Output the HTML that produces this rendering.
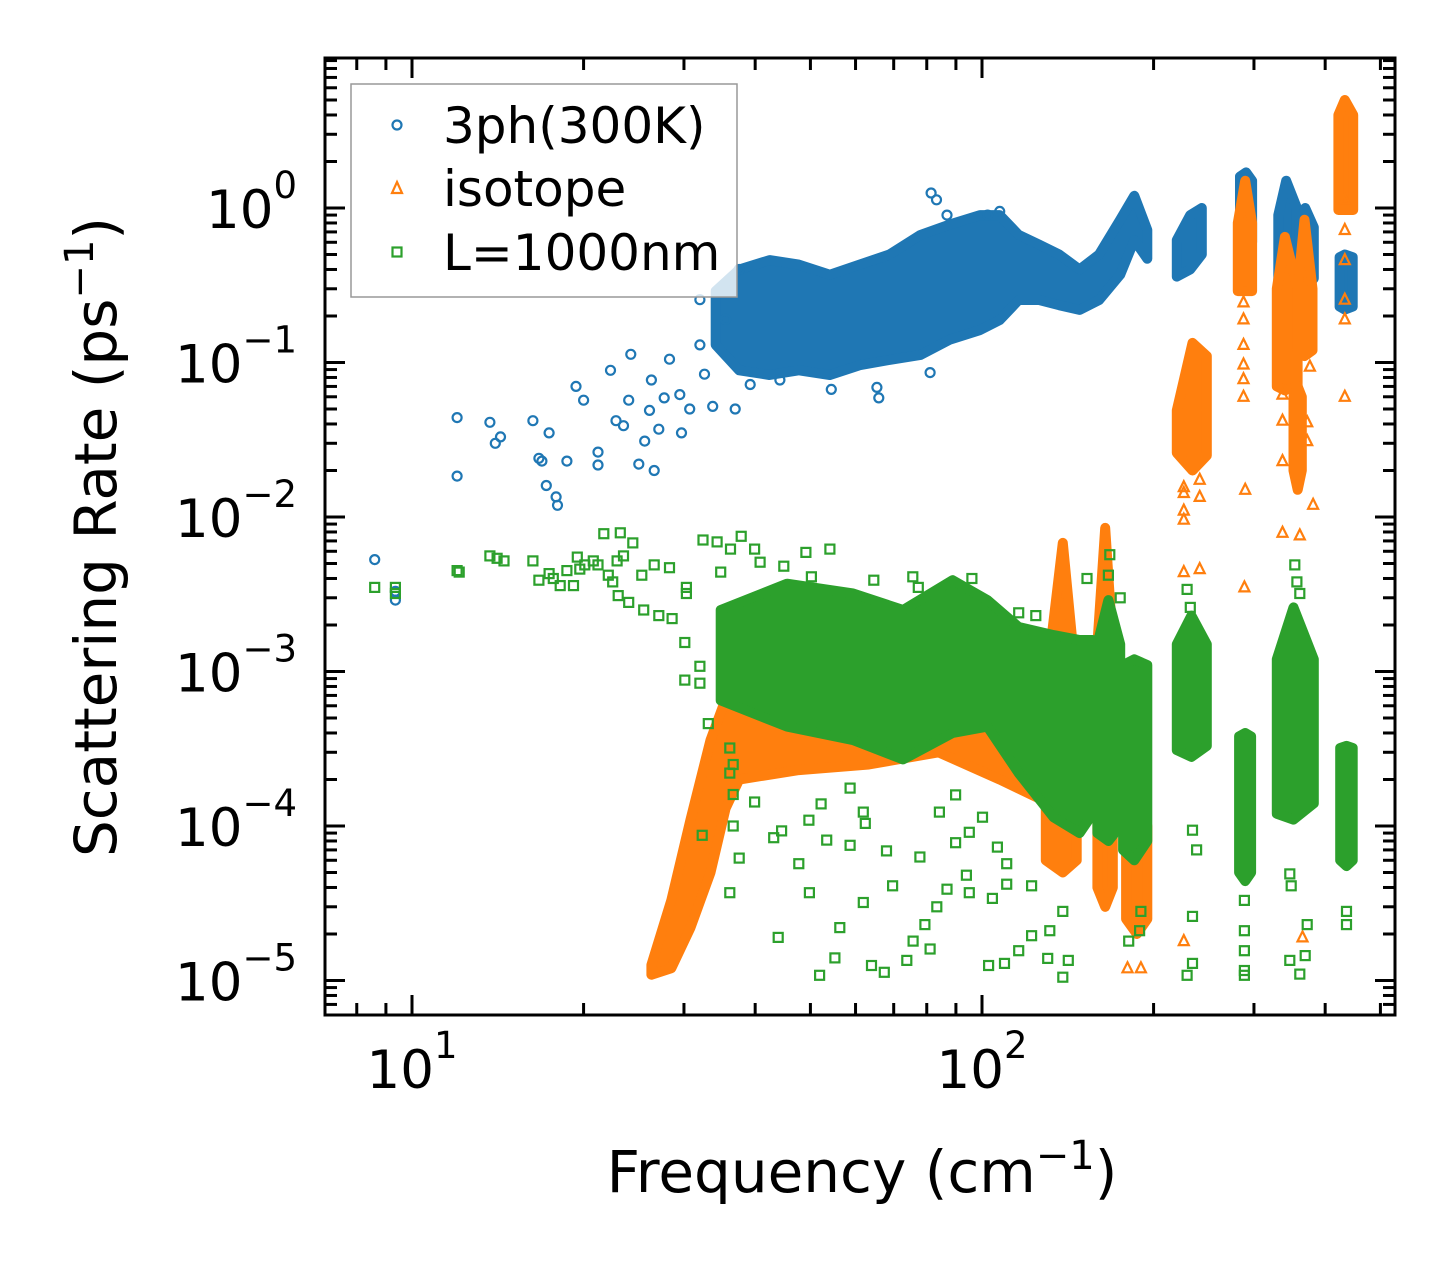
<!DOCTYPE html>
<html><head><meta charset="utf-8"><style>
html,body{margin:0;padding:0;background:#fff;}
svg{display:block;font-family:"DejaVu Sans","Liberation Sans",sans-serif;}
</style></head><body>
<svg id="chart" width="1455" height="1265" viewBox="0 0 1455 1265" xmlns="http://www.w3.org/2000/svg">
<defs><clipPath id="plotclip"><rect x="325" y="58" width="1070" height="957"/></clipPath></defs>
<rect x="0" y="0" width="1455" height="1265" fill="#fff"/>
<g id="marks" clip-path="url(#plotclip)"></g>
<g id="axes"></g>
<text x="862" y="1192" text-anchor="middle" font-size="58">Frequency (cm<tspan dy="-23" font-size="40">−1</tspan><tspan dy="23">)</tspan></text>
<text transform="translate(116,537) rotate(-90)" text-anchor="middle" font-size="58">Scattering Rate (ps<tspan dy="-23" font-size="40">−1</tspan><tspan dy="23">)</tspan></text>
<g id="legend">
<rect x="351" y="84" width="386" height="213" fill="#fff" fill-opacity="0.8" stroke="#999" stroke-width="1.5"/>
<circle cx="397" cy="125" r="4.5" fill="none" stroke="#1f77b4" stroke-width="2.2"/>
<text x="443" y="143" font-size="50">3ph(300K)</text>
<polygon points="397,182 402,193 392,193" fill="none" stroke="#ff7f0e" stroke-width="2.2"/>
<text x="443" y="206" font-size="50">isotope</text>
<rect x="392.5" y="247.5" width="9" height="9" fill="none" stroke="#2ca02c" stroke-width="2.2"/>
<text x="443" y="270" font-size="50">L=1000nm</text>
</g>
</svg>
<script>
// ---- 3ph(300K) data ----
const ph3Freq = [8.6,9.35,9.35,12.0,12.0,13.7,14.3,14.0,16.3,16.7,16.9,17.4,17.2,17.9,18.0,18.7,19.4,20.0,21.2,21.2,22.3,22.8,23.5,24.2,24.0,25.0,25.6,26.1,26.3,26.6,27.1,27.7,28.3,29.5,29.7,30.7,32.0,32.6,33.7,32.0,35.5,36.9,39.2,37.5,44.2,54.4,65.4,65.9,81.1,81.4,83.2,86.8,102.3,107.4];
const ph3Rate = [0.0053,0.0029,0.0033,0.044,0.0184,0.041,0.033,0.030,0.042,0.024,0.023,0.035,0.016,0.0135,0.0119,0.023,0.070,0.057,0.0217,0.0263,0.089,0.042,0.039,0.113,0.057,0.022,0.031,0.049,0.077,0.020,0.037,0.059,0.105,0.062,0.035,0.050,0.13,0.084,0.052,0.255,0.19,0.05,0.072,0.40,0.077,0.067,0.069,0.059,0.086,1.25,1.13,0.9,0.9,0.95];
const ph3BandFreq = [[34.1,37.5,42.4,47.7,54.1,61.0,68.8,78,87.6,99.2,107.4,116,126,136.6,148.3,160.5,174.8,185,195],[219.7,231.9,243],[283.5,290.6,297.7],[331,341.7,356.8],[360,369,382],[424,433,447]];
const ph3BandHi = [[0.29,0.40,0.46,0.43,0.37,0.43,0.50,0.67,0.78,0.90,0.90,0.67,0.58,0.50,0.40,0.50,0.84,1.2,0.72],[0.62,0.9,1.0],[1.6,1.7,1.5],[0.9,1.5,1.0],[0.8,1.0,0.75],[0.48,0.5,0.48]];
const ph3BandLo = [[0.13,0.089,0.083,0.089,0.083,0.096,0.104,0.112,0.14,0.162,0.188,0.254,0.254,0.235,0.219,0.254,0.37,0.62,0.47],[0.36,0.4,0.5],[0.6,0.55,0.6],[0.13,0.12,0.14],[0.3,0.3,0.35],[0.23,0.22,0.23]];
// ---- isotope data ----
const isoFreq = [226,226,226,226,241,226,226,241,241,287.6,287.6,287.6,287.6,287.6,287.6,289.6,288.6,336.7,336.7,336.7,372,372,376,381,336.7,361,433,433,433,433,433,433,190,180,365];
const isoRate = [0.0143,0.011,0.0096,0.0044,0.0046,1.8e-5,0.0156,0.0174,0.0135,0.245,0.19,0.13,0.097,0.078,0.06,0.015,0.0035,0.062,0.042,0.023,0.031,0.041,0.094,0.012,0.0079,0.0076,1.13,0.72,0.46,0.255,0.19,0.06,1.2e-5,1.2e-5,1.9e-5];
const isoBandFreq = [[26.3,28.5,30.8,33.4,35.5,37.5,47.7,63.3,83.9,107.4,126.3],[129.4,138.6,146.6],[159.4,164.5,169.6],[179,187,195],[219.7,234,248],[281,289.6,297.7],[329,340,357.8],[352,358,364],[358,368,380],[422,433,448]];
const isoBandHi = [[1.26e-5,3.3e-5,1.1e-4,3.6e-4,6.6e-4,7e-4,7e-4,7e-4,7e-4,7e-4,7e-4],[8e-4,6.8e-3,8e-4],[1.5e-3,8.5e-3,1.5e-3],[1e-4,1.2e-4,1e-4],[0.049,0.134,0.11],[0.8,1.5,0.8],[0.3,0.65,0.3],[0.06,0.07,0.06],[0.3,0.84,0.3],[4.0,5.0,4.0]];
const isoBandLo = [[1.09e-5,1.2e-5,2.2e-5,5e-5,1.3e-4,2.0e-4,2.3e-4,2.5e-4,3e-4,2e-4,1.5e-4],[6e-5,5e-5,6e-5],[4e-5,3e-5,4e-5],[2.5e-5,2e-5,2.5e-5],[0.026,0.02,0.025],[0.29,0.29,0.29],[0.07,0.066,0.07],[0.02,0.015,0.02],[0.12,0.11,0.12],[0.97,0.97,0.97]];
// ---- boundary L=1000nm data ----
const bndFreq = [30.1,32.0,33.1,36.1,36.6,36.1,36.6,39.9,36.6,37.5,32.3,47.7,43.1,44.5,49.7,52.2,58.7,61.9,62.4,53.4,58.7,68.0,77.8,36.1,49.8,61.9,69.7,83.3,79.4,75.7,56.3,43.9,55.2,51.9,64,67.4,73.8,81.1,86.8,95,93.9,104.3,110.5,102.7,109.5,116,122.2,131.5,138.6,141.7,138.6,130.4,89.9,100.2,106.4,110.5,122.2,95,84.2,89.9,
23.2,24.4,32.4,34.3,37.8,39.9,36.2,44.9,49.1,54.1,50.2,64.6,75.6,77.3,25.3,26.6,28.3,24.0,25.5,27.1,28.6,30.3,30.1,32.0,30.3,34.8,40.8,152.8,167.6,166.6,174.8,96,116,124.3,
8.6,9.35,9.35,12.0,12.1,13.7,14.1,14.5,16.3,16.7,17.4,17.7,18.2,18.7,19.2,19.7,19.5,20.1,20.8,21.2,21.7,22.1,22.5,22.9,23.0,23.5,
288.6,288.6,288.6,288.6,288.6,346.7,348.7,372,369,346.7,361,234,238,234,229,234,436,436,180.9,189,190,353.8,356.8,361,229,232];
const bndRate = [8.8e-4,8.4e-4,4.6e-4,3.2e-4,2.5e-4,2.2e-4,1.6e-4,1.43e-4,1.0e-4,6.2e-5,8.7e-5,5.7e-5,8.4e-5,9.3e-5,1.09e-4,1.39e-4,1.76e-4,1.23e-4,1.04e-4,8.1e-5,7.5e-5,6.9e-5,6.3e-5,3.7e-5,3.7e-5,3.2e-5,4.1e-5,3.0e-5,2.3e-5,1.8e-5,2.2e-5,1.9e-5,1.4e-5,1.08e-5,1.25e-5,1.13e-5,1.35e-5,1.6e-5,3.9e-5,3.7e-5,4.8e-5,3.4e-5,4.2e-5,1.25e-5,1.29e-5,1.56e-5,1.95e-5,2.1e-5,2.8e-5,1.35e-5,1.05e-5,1.39e-5,7.8e-5,1.14e-4,7.3e-5,5.7e-5,4.1e-5,9.1e-5,1.23e-4,1.59e-4,
7.9e-3,6.8e-3,7.1e-3,6.9e-3,7.5e-3,6.2e-3,6.2e-3,4.8e-3,5.9e-3,6.2e-3,4.1e-3,3.9e-3,4.1e-3,3.5e-3,4.2e-3,4.9e-3,4.7e-3,2.8e-3,2.5e-3,2.3e-3,2.2e-3,3.2e-3,1.54e-3,1.08e-3,3.5e-3,4.4e-3,5.1e-3,4.0e-3,5.7e-3,4.2e-3,3.0e-3,4.0e-3,2.4e-3,2.3e-3,
3.5e-3,3.5e-3,3.2e-3,4.5e-3,4.4e-3,5.6e-3,5.4e-3,5.2e-3,5.2e-3,3.9e-3,4.3e-3,4.0e-3,3.6e-3,4.5e-3,3.6e-3,4.6e-3,5.5e-3,4.9e-3,5.2e-3,4.9e-3,7.8e-3,4.2e-3,3.8e-3,5.2e-3,3.1e-3,5.6e-3,
3.3e-5,2.1e-5,1.56e-5,1.16e-5,1.08e-5,4.9e-5,4.1e-5,2.3e-5,1.45e-5,1.35e-5,1.1e-5,9.4e-5,7e-5,2.6e-5,1.08e-5,1.29e-5,2.8e-5,2.3e-5,1.8e-5,2.1e-5,2.8e-5,4.9e-3,3.8e-3,3.2e-3,3.4e-3,2.6e-3];
const bndBandFreq = [[34.8,45.5,59.4,72.7,88.8,102.2,116,133.5,148.3,156.4],[159.4,166.6,174.8],[176.8,185,195],[219.7,233,248],[282.5,289.6,296.6],[329,352,382],[425,436,447]];
const bndBandHi = [[0.0025,0.0037,0.0032,0.0025,0.0039,0.0029,0.00194,0.00172,0.0016,0.0016],[0.0015,0.0029,0.0015],[0.0011,0.0012,0.0011],[0.0015,0.0023,0.0015],[3.8e-4,4e-4,3.8e-4],[0.0012,0.0026,0.0012],[3.2e-4,3.3e-4,3.2e-4]];
const bndBandLo = [[6.5e-4,4.4e-4,3.6e-4,2.7e-4,4e-4,4.4e-4,2.2e-4,1.14e-4,9e-5,1.2e-4],[9e-5,8e-5,1e-4],[7e-5,6e-5,8e-5],[3.1e-4,2.8e-4,3.3e-4],[5e-5,4.4e-5,5e-5],[1.2e-4,1.1e-4,1.4e-4],[6e-5,5.5e-5,6e-5]];
// ---- ticks ----
const xMajorTicks = [10,100];
const xMajorLabels = ["1","2"];
const xMinorTicks = [7,8,9,20,30,40,50,60,70,80,90,200,300,400,500];
const yMajorTicks = [1e-5,1e-4,1e-3,1e-2,1e-1,1];
const yMajorLabels = ["−5","−4","−3","−2","−1","0"];
const yMinorMant = [2,3,4,5,6,7,8,9];
const yMinorExp = [-6,-5,-4,-3,-2,-1,0];

const NS = "http://www.w3.org/2000/svg";
const PX0 = 325, PX1 = 1395, PY0 = 58, PY1 = 1015;
function xs(f){ return 412 + 570 * (Math.log10(f) - 1); }
function ys(v){ return 208 - 154.5 * Math.log10(v); }
function mk(tag, attrs, parent){
  const e = document.createElementNS(NS, tag);
  for (const k in attrs) e.setAttribute(k, attrs[k]);
  parent.appendChild(e);
  return e;
}
const marks = document.getElementById('marks');
const axes = document.getElementById('axes');

function drawBands(F, H, L, color, name){
  const g = mk('g', {}, marks);
  
  
  for (let i = 0; i < F.length; i++){
    const pts = [];
    for (let j = 0; j < F[i].length; j++) pts.push(xs(F[i][j]).toFixed(1) + ',' + ys(H[i][j]).toFixed(1));
    for (let j = F[i].length - 1; j >= 0; j--) pts.push(xs(F[i][j]).toFixed(1) + ',' + ys(L[i][j]).toFixed(1));
    const p = mk('polygon', {points: pts.join(' '), fill: color, stroke: color, 'stroke-width': 10, 'stroke-linejoin': 'round'}, g);
    
    
  }
}
function drawPoints(F, R, color, shape, name){
  const g = mk('g', {fill: 'none', stroke: color, 'stroke-width': 2.2}, marks);
  
  
  for (let i = 0; i < F.length; i++){
    const x = xs(F[i]), y = ys(R[i]);
    let e;
    if (shape === 'circle') e = mk('circle', {cx: x.toFixed(1), cy: y.toFixed(1), r: 4.5}, g);
    else if (shape === 'tri') e = mk('polygon', {points: x.toFixed(1)+','+(y-6).toFixed(1)+' '+(x+5).toFixed(1)+','+(y+4).toFixed(1)+' '+(x-5).toFixed(1)+','+(y+4).toFixed(1)}, g);
    else e = mk('rect', {x: (x-4.5).toFixed(1), y: (y-4.5).toFixed(1), width: 9, height: 9}, g);
    
    
  }
}
drawBands(ph3BandFreq, ph3BandHi, ph3BandLo, '#1f77b4', 'three-phonon');
drawPoints(ph3Freq, ph3Rate, '#1f77b4', 'circle', 'three-phonon');
drawBands(isoBandFreq, isoBandHi, isoBandLo, '#ff7f0e', 'isotope');
drawPoints(isoFreq, isoRate, '#ff7f0e', 'tri', 'isotope');
drawBands(bndBandFreq, bndBandHi, bndBandLo, '#2ca02c', 'boundary');
drawPoints(bndFreq, bndRate, '#2ca02c', 'square', 'boundary');

const svg = document.getElementById('chart');

const frame = mk('rect', {x: PX0, y: PY0, width: PX1-PX0, height: PY1-PY0, fill: 'none', stroke: '#000', 'stroke-width': 3}, axes);


function tick(x1, y1, x2, y2, nm){
  const t = mk('line', {x1: x1, y1: y1, x2: x2, y2: y2, stroke: '#000', 'stroke-width': 3}, axes);
  
  
}
xMajorTicks.forEach((f, i) => {
  const x = xs(f);
  tick(x, PY1, x, PY1-20, 'x-major-tick');
  tick(x, PY0, x, PY0+20, 'x-major-tick-top');
  const t = mk('text', {x: x, y: 1088, 'text-anchor': 'middle', 'font-size': 53}, axes);
  
  
  t.innerHTML = '10<tspan dy="-30" font-size="37">' + xMajorLabels[i] + '</tspan>';
});
xMinorTicks.forEach(f => {
  const x = xs(f);
  if (x < PX0 + 1 || x > PX1 - 1) return;
  tick(x, PY1, x, PY1-12, 'x-minor-tick');
  tick(x, PY0, x, PY0+12, 'x-minor-tick-top');
});
yMajorTicks.forEach((v, i) => {
  const y = ys(v);
  tick(PX0, y, PX0+20, y, 'y-major-tick');
  tick(PX1, y, PX1-20, y, 'y-major-tick-right');
  const t = mk('text', {x: 297, y: y + 20, 'text-anchor': 'end', 'font-size': 53}, axes);
  
  
  t.innerHTML = '10<tspan dy="-30" font-size="37">' + yMajorLabels[i] + '</tspan>';
});
yMinorExp.forEach(k => yMinorMant.forEach(m => {
  const y = ys(m * Math.pow(10, k));
  if (y < PY0 + 1 || y > PY1 - 1) return;
  tick(PX0, y, PX0+12, y, 'y-minor-tick');
  tick(PX1, y, PX1-12, y, 'y-minor-tick-right');
}));
svg.appendChild(document.getElementById('legend'));
</script>
</body></html>
